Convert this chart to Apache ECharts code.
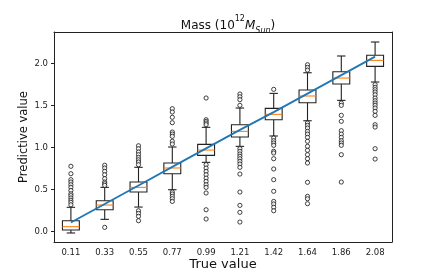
<!DOCTYPE html>
<html><head><meta charset="utf-8">
<script src="https://cdn.jsdelivr.net/npm/echarts@6/dist/echarts.min.js"></script>
<style>html,body{margin:0;padding:0;background:#fff}#c{width:436px;height:273px}</style>
</head><body><div id="c"></div>
<script>
const categories = ['0.11','0.33','0.55','0.77','0.99','1.21','1.42','1.64','1.86','2.08'];
const trueValues = [0.11,0.33,0.55,0.77,0.99,1.21,1.42,1.64,1.86,2.08];
const lowWhisker = [-0.015,0.147,0.293,0.499,0.824,1.014,1.137,1.318,1.560,1.778];
const q1 =         [0.020,0.261,0.471,0.689,0.907,1.125,1.330,1.532,1.754,1.964];
const median =     [0.060,0.317,0.527,0.757,0.970,1.192,1.394,1.612,1.825,2.035];
const q3 =         [0.130,0.368,0.590,0.816,1.038,1.271,1.465,1.683,1.900,2.095];
const highWhisker =[0.290,0.527,0.765,1.006,1.240,1.469,1.643,1.888,2.087,2.253];
const outliers = [
  [0.777,0.689,0.618,0.590,0.558,0.527,0.490,0.450,0.428,0.400,0.373,0.349,0.320],
  [0.789,0.757,0.717,0.677,0.630,0.590,0.570,0.550,0.052],
  [1.021,0.986,0.947,0.915,0.883,0.855,0.828,0.796,0.249,0.218,0.183,0.131],
  [1.461,1.422,1.359,1.295,1.184,1.160,1.133,1.074,1.042,0.471,0.448,0.420,0.392,0.360],
  [1.588,1.330,1.311,1.291,1.271,0.796,0.756,0.717,0.677,0.637,0.598,0.558,0.527,0.460,0.261,0.151],
  [1.635,1.603,1.568,1.501,0.986,0.955,0.923,0.895,0.867,0.836,0.804,0.765,0.685,0.471,0.313,0.230,0.115],
  [1.691,1.113,1.081,1.054,1.026,0.955,0.935,0.867,0.745,0.618,0.480,0.360,0.330,0.290,0.249],
  [1.983,1.952,1.920,1.291,1.263,1.232,1.192,1.160,1.121,1.074,1.014,0.967,0.915,0.867,0.816,0.587,0.420,0.392,0.333],
  [1.528,1.501,1.382,1.311,1.200,1.160,1.121,1.081,1.054,1.026,0.915,0.590],
  [1.746,1.715,1.687,1.659,1.627,1.588,1.556,1.528,1.501,1.469,1.430,1.382,1.271,1.243,0.986,0.863]
];
const yTicks = [0.0,0.5,1.0,1.5,2.0];

const boxData = categories.map((c,i)=>[i,lowWhisker[i],q1[i],median[i],q3[i],highWhisker[i]]);
const outlierData = [];
outliers.forEach((arr,i)=>arr.forEach(v=>outlierData.push([i,v])));

const chart = echarts.init(document.getElementById('c'));
const font = 'DejaVu Sans';
const base = {fontFamily:font,color:'#111',fontWeight:'normal',lineHeight:17};
chart.setOption({
  animation:false,
  title:{
    text:'{a|Mass (10}{sup|12}{it|M}{sub|Sun}{a|)}',
    left:223, top:10, textAlign:'center',
    textStyle:{fontWeight:'normal',rich:{
      a:Object.assign({},base,{fontSize:12,verticalAlign:'bottom'}),
      sup:Object.assign({},base,{fontSize:8,verticalAlign:'top'}),
      it:Object.assign({},base,{fontSize:12,fontStyle:'italic',verticalAlign:'bottom'}),
      sub:Object.assign({},base,{fontSize:8,fontStyle:'italic',verticalAlign:'bottom',padding:[0,0,-3,0]})
    }}
  },
  grid:{left:54,right:44,top:32,bottom:31,containLabel:false,outerBoundsMode:'none'},
  xAxis:[{
    type:'category', data:categories, boundaryGap:true,
    name:'True value', nameLocation:'middle', nameGap:16, nameMoveOverlap:false,
    nameTextStyle:{fontFamily:font,fontSize:13,color:'#111'},
    axisLine:{onZero:false,lineStyle:{color:'#222'}},
    axisTick:{alignWithLabel:true,length:3,lineStyle:{color:'#222'}},
    axisLabel:{fontFamily:font,fontSize:8.5,color:'#222',margin:6},
    splitLine:{show:false}
  },{
    type:'category', data:categories, position:'top',
    axisLine:{show:true,onZero:false,lineStyle:{color:'#222'}},
    axisTick:{show:false}, axisLabel:{show:false}, splitLine:{show:false}
  }],
  yAxis:[{
    type:'value', min:-0.122, max:2.372,
    name:'Predictive value', nameLocation:'middle', nameGap:24, nameMoveOverlap:false, nameRotate:90,
    nameTextStyle:{fontFamily:font,fontSize:11.5,color:'#111'},
    axisLine:{show:true,onZero:false,lineStyle:{color:'#222'}},
    axisTick:{show:true,length:3,customValues:yTicks,lineStyle:{color:'#222'}},
    axisLabel:{fontFamily:font,fontSize:8.5,color:'#222',margin:6,customValues:yTicks,formatter:v=>v.toFixed(1)},
    splitLine:{show:false}
  },{
    type:'value', min:-0.122, max:2.372, position:'right',
    axisLine:{show:true,onZero:false,lineStyle:{color:'#222'}},
    axisTick:{show:false}, axisLabel:{show:false}, splitLine:{show:false}
  }],
  series:[
    {
      type:'custom', data:boxData, z:2,
      encode:{x:0,y:[1,2,3,4,5]},
      renderItem:function(params,api){
        const x=api.value(0);
        const bw=api.size([1,0])[0];
        const hb=bw*0.25, hc=bw*0.125;
        const pl=api.coord([x,api.value(1)]);
        const p1=api.coord([x,api.value(2)]);
        const pm=api.coord([x,api.value(3)]);
        const p3=api.coord([x,api.value(4)]);
        const ph=api.coord([x,api.value(5)]);
        const cx=pl[0];
        const blk={stroke:'#222',lineWidth:1.1,fill:null};
        return {type:'group',children:[
          {type:'line',shape:{x1:cx,y1:pl[1],x2:cx,y2:p1[1]},style:blk},
          {type:'line',shape:{x1:cx,y1:p3[1],x2:cx,y2:ph[1]},style:blk},
          {type:'line',shape:{x1:cx-hc,y1:pl[1],x2:cx+hc,y2:pl[1]},style:blk},
          {type:'line',shape:{x1:cx-hc,y1:ph[1],x2:cx+hc,y2:ph[1]},style:blk},
          {type:'rect',shape:{x:cx-hb,y:p3[1],width:2*hb,height:p1[1]-p3[1]},style:{stroke:'#222',lineWidth:1.1,fill:'#fff'}},
          {type:'line',shape:{x1:cx-hb,y1:pm[1],x2:cx+hb,y2:pm[1]},style:{stroke:'#ff7f0e',lineWidth:1.1}}
        ]};
      }
    },
    {
      type:'scatter', data:outlierData, z:3,
      symbol:'circle', symbolSize:4.2,
      itemStyle:{color:'#fff',borderColor:'#111',borderWidth:1}
    },
    {
      type:'line', data:trueValues, z:4, showSymbol:false, symbol:'none',
      lineStyle:{color:'#1f77b4',width:1.8}
    }
  ]
});
</script></body></html>
